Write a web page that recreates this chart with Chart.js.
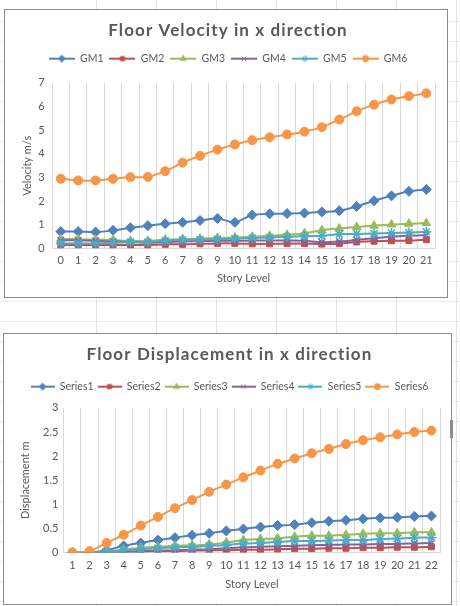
<!DOCTYPE html>
<html>
<head>
<meta charset="utf-8">
<script src="https://cdn.jsdelivr.net/npm/chart.js@4.4.1/dist/chart.umd.min.js"></script>
<style>
  html, body { margin: 0; padding: 0; background: #fff; }
  body {
    width: 460px; height: 606px; position: relative; overflow: hidden;
    background-image:
      repeating-linear-gradient(to right, transparent 0, transparent 59px, #e4e4e4 59px, #e4e4e4 60px),
      repeating-linear-gradient(to bottom, transparent 0, transparent 19px, #ececec 19px, #ececec 20px);
    background-position: 37px 0, 0 2px;
  }
  .box { position: absolute; background: #fff; border: 1px solid #8c8c8c; box-sizing: border-box; }
  #box1 { left: 4px; top: 9px; width: 444px; height: 289px; }
  #box2 { left: 3px; top: 333px; width: 449px; height: 272px; }
  .handle { position: absolute; left: 450px; top: 420px; width: 3px; height: 18px; background: #8c8c8c; }
  canvas { display: block; }
</style>
</head>
<body>
<div class="box" id="box1"><canvas id="velChart" width="442" height="287"></canvas></div>
<div class="box" id="box2"><canvas id="dispChart" width="447" height="270"></canvas></div>
<div class="handle"></div>
<script>
// Floor velocity (m/s), story 0..21
const velStories = ['0','1','2','3','4','5','6','7','8','9','10','11','12','13','14','15','16','17','18','19','20','21'];
const gm1 = [0.72, 0.72, 0.70, 0.77, 0.88, 0.97, 1.05, 1.11, 1.19, 1.27, 1.11, 1.42, 1.47, 1.48, 1.50, 1.55, 1.60, 1.78, 2.02, 2.23, 2.42, 2.50];
const gm2 = [0.15, 0.15, 0.15, 0.15, 0.15, 0.15, 0.18, 0.18, 0.20, 0.22, 0.22, 0.20, 0.20, 0.21, 0.21, 0.19, 0.21, 0.28, 0.31, 0.33, 0.34, 0.38];
const gm3 = [0.40, 0.40, 0.38, 0.36, 0.33, 0.33, 0.38, 0.40, 0.42, 0.45, 0.47, 0.50, 0.54, 0.58, 0.65, 0.78, 0.85, 0.91, 0.97, 1.02, 1.05, 1.08];
const gm4 = [0.35, 0.35, 0.33, 0.30, 0.28, 0.25, 0.27, 0.30, 0.32, 0.33, 0.33, 0.34, 0.34, 0.34, 0.33, 0.27, 0.30, 0.37, 0.44, 0.50, 0.54, 0.57];
const gm5 = [0.22, 0.22, 0.22, 0.25, 0.27, 0.28, 0.33, 0.37, 0.38, 0.40, 0.42, 0.45, 0.47, 0.50, 0.52, 0.54, 0.61, 0.62, 0.64, 0.66, 0.68, 0.71];
const gm6 = [2.95, 2.88, 2.88, 2.95, 3.02, 3.03, 3.27, 3.63, 3.92, 4.18, 4.40, 4.58, 4.70, 4.82, 4.94, 5.13, 5.45, 5.80, 6.08, 6.30, 6.44, 6.56];
const velTicks = [0, 1, 2, 3, 4, 5, 6, 7];

// Floor displacement (m), story 1..22
const dispStories = ['1','2','3','4','5','6','7','8','9','10','11','12','13','14','15','16','17','18','19','20','21','22'];
const s1 = [0, 0, 0.05, 0.14, 0.20, 0.26, 0.31, 0.36, 0.40, 0.45, 0.49, 0.53, 0.56, 0.58, 0.62, 0.65, 0.67, 0.70, 0.72, 0.73, 0.75, 0.76];
const s2 = [0, 0, 0, 0.01, 0.02, 0.03, 0.03, 0.04, 0.05, 0.05, 0.06, 0.06, 0.07, 0.08, 0.08, 0.09, 0.09, 0.10, 0.10, 0.11, 0.11, 0.12];
const s3 = [0, 0, 0.03, 0.06, 0.10, 0.12, 0.14, 0.15, 0.17, 0.21, 0.26, 0.28, 0.30, 0.33, 0.35, 0.35, 0.37, 0.39, 0.40, 0.40, 0.42, 0.42];
const s4 = [0, 0, 0.01, 0.02, 0.03, 0.04, 0.05, 0.06, 0.07, 0.09, 0.11, 0.12, 0.13, 0.14, 0.15, 0.16, 0.17, 0.17, 0.18, 0.18, 0.19, 0.20];
const s5 = [0, 0, 0.01, 0.05, 0.07, 0.09, 0.11, 0.12, 0.14, 0.16, 0.19, 0.20, 0.22, 0.24, 0.24, 0.25, 0.26, 0.26, 0.28, 0.29, 0.31, 0.31];
const s6 = [0, 0.03, 0.20, 0.37, 0.56, 0.74, 0.92, 1.09, 1.26, 1.41, 1.56, 1.70, 1.84, 1.95, 2.06, 2.15, 2.25, 2.33, 2.39, 2.45, 2.50, 2.53];
const dispTicks = [0, 0.5, 1, 1.5, 2, 2.5, 3];

const colors = ['#4F81BD', '#C0504D', '#9BBB59', '#8064A2', '#4BACC6', '#F79646'];
const markers = ['rectRot', 'rect', 'triangle', 'crossRot', 'star', 'circle'];
const radii = [5, 4.2, 5, 4.5, 5, 4.5];
const textColor = '#595959';
const fontFamily = 'Lato, "Open Sans", sans-serif';

// small line + marker image for the legend, Excel style
function legendIcon(i, w) {
  const c = document.createElement('canvas');
  c.width = w; c.height = 10;
  const ctx = c.getContext('2d');
  ctx.strokeStyle = colors[i];
  ctx.fillStyle = colors[i];
  ctx.lineWidth = 2;
  ctx.beginPath(); ctx.moveTo(0, 5); ctx.lineTo(w, 5); ctx.stroke();
  ctx.lineWidth = 1;
  Chart.helpers.drawPoint(ctx, { pointStyle: markers[i], radius: radii[i] * 0.7, borderWidth: 1, rotation: 0 }, w / 2, 5);
  return c;
}

function makeDatasets(names, series) {
  return series.map((vals, i) => ({
    label: names[i],
    data: vals,
    borderColor: colors[i],
    backgroundColor: colors[i],
    borderWidth: 2,
    pointStyle: markers[i],
    pointRadius: radii[i],
    pointBorderWidth: (markers[i] === 'crossRot' || markers[i] === 'star') ? 1.5 : 1,
    tension: 0.3,
    order: series.length - i
  }));
}

// title drawn with a little letter spacing
const spacedTitle = {
  id: 'spacedTitle',
  beforeDraw(chart) {
    const tb = chart.titleBlock;
    if (tb && !tb._spaced) {
      const orig = tb.draw.bind(tb);
      tb.draw = function () {
        chart.ctx.save();
        chart.ctx.letterSpacing = '1.1px';
        orig();
        chart.ctx.restore();
      };
      tb._spaced = true;
    }
  }
};

// extra room under the legend
const legendGap = {
  id: 'legendGap',
  beforeLayout(chart, args, opts) {
    const lg = chart.legend;
    if (lg && !lg._gap) {
      const fit = lg.fit.bind(lg);
      lg.fit = function () { fit(); this.height += opts.extra || 0; };
      lg._gap = true;
    }
  }
};

function makeOptions(title, yTitle, yTicks, pad) {
  const icons = colors.map((c, i) => legendIcon(i, pad.iconWidth));
  return {
    responsive: false,
    animation: false,
    layout: { padding: pad.layout },
    plugins: {
      title: {
        display: true, text: title, color: textColor,
        font: { family: fontFamily, size: 17, weight: 'bold' },
        padding: pad.title
      },
      legend: {
        position: 'top',
        labels: {
          color: textColor,
          font: { family: fontFamily, size: 10.5 },
          usePointStyle: true,
          pointStyleWidth: pad.iconWidth,
          padding: pad.legend,
          generateLabels(chart) {
            return chart.data.datasets.map((ds, i) => ({
              text: ds.label, fontColor: textColor, pointStyle: icons[i],
              hidden: false, datasetIndex: i, lineWidth: 0, strokeStyle: 'transparent', fillStyle: 'transparent'
            }));
          }
        }
      },
      legendGap: { extra: pad.legendExtra },
      tooltip: { enabled: false }
    },
    scales: {
      x: {
        offset: true,
        grid: { offset: true, color: '#d9d9d9', drawTicks: false },
        border: { color: '#d9d9d9' },
        ticks: { color: textColor, font: { family: fontFamily, size: 11 }, padding: pad.xTickPad, maxRotation: 0, autoSkip: false },
        title: { display: true, text: 'Story Level', color: textColor, font: { family: fontFamily, size: 11 }, padding: { top: 0, bottom: 0 } }
      },
      y: {
        min: yTicks[0], max: yTicks[yTicks.length - 1],
        afterBuildTicks(axis) { axis.ticks = yTicks.map(v => ({ value: v })); },
        grid: { display: false, drawTicks: false },
        border: { display: false },
        ticks: { color: textColor, font: { family: fontFamily, size: 11 }, padding: pad.yTickPad, callback: v => String(v) },
        title: { display: true, text: yTitle, color: textColor, font: { family: fontFamily, size: 11 }, padding: { top: 0, bottom: pad.yTitleGap } }
      }
    }
  };
}

new Chart(document.getElementById('velChart'), {
  type: 'line',
  data: { labels: velStories, datasets: makeDatasets(['GM1', 'GM2', 'GM3', 'GM4', 'GM5', 'GM6'], [gm1, gm2, gm3, gm4, gm5, gm6]) },
  options: makeOptions('Floor Velocity in x direction', 'Velocity m/s', velTicks, {
    layout: { left: 16, right: 12, top: 0, bottom: 12 },
    title: { top: 10, bottom: 7 },
    legend: 6, iconWidth: 26, legendExtra: 9, yTitleGap: -3.5, yTickPad: 7.5, xTickPad: 5
  }),
  plugins: [spacedTitle, legendGap]
});

new Chart(document.getElementById('dispChart'), {
  type: 'line',
  data: { labels: dispStories, datasets: makeDatasets(['Series1', 'Series2', 'Series3', 'Series4', 'Series5', 'Series6'], [s1, s2, s3, s4, s5, s6]) },
  options: makeOptions('Floor Displacement in x direction', 'Displacement m', dispTicks, {
    layout: { left: 15, right: 11, top: 0, bottom: 13 },
    title: { top: 10, bottom: 13 },
    legend: 4, iconWidth: 24, legendExtra: 6, yTitleGap: 5.3, yTickPad: 5.5, xTickPad: 6
  }),
  plugins: [spacedTitle, legendGap]
});
</script>
</body>
</html>
